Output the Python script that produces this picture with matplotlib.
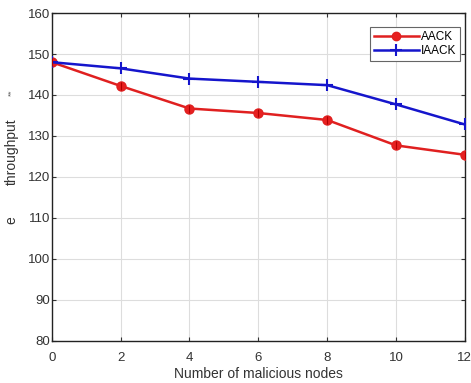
import matplotlib
matplotlib.use("Agg")
import matplotlib.pyplot as plt
from matplotlib.lines import Line2D

plt.rcParams['font.family'] = ['Liberation Sans', 'DejaVu Sans']

nodes = [0, 2, 4, 6, 8, 10, 12]
aack = [148.0, 142.2, 136.7, 135.6, 133.9, 127.7, 125.4]
iaack = [148.0, 146.5, 144.0, 143.2, 142.4, 137.7, 132.8]
xticks = [0, 2, 4, 6, 8, 10, 12]
yticks = [80, 90, 100, 110, 120, 130, 140, 150, 160]

fig = plt.figure(figsize=(4.71, 3.83), dpi=100)
ax = fig.add_axes([0.110, 0.110, 0.877, 0.856])

ax.plot(nodes, aack, color='#e02020', lw=1.8, marker='o', ms=6.5,
        mfc='#e82020', mec='#e02020', zorder=3)
ax.plot(nodes, aack, color='none', marker='|', ms=6, mec='#b00000', mew=0.8, zorder=4)
ax.plot(nodes, iaack, color='#1515cc', lw=1.8, marker='+', ms=9, mew=1.5, zorder=3)

ax.set_xlim(0, 12)
ax.set_ylim(80, 160)
ax.set_xticks(xticks)
ax.set_yticks(yticks)
ax.tick_params(direction='in', top=True, right=True, labelsize=9.5, colors='#333333',
               length=3)
ax.tick_params(axis='y', pad=1)
ax.tick_params(axis='x', pad=8)
ax.grid(True, color='#dddddd', lw=0.8)
for s in ax.spines.values():
    s.set_color('#222222')
    s.set_linewidth(1.0)

ax.set_xlabel('Number of malicious nodes', fontsize=10, color='#333333', labelpad=2)
fig.text(0.025, 0.605, 'throughput', rotation=90, fontsize=10, color='#333333',
         ha='center', va='center')
fig.text(0.025, 0.425, 'e', rotation=90, fontsize=10, color='#333333',
         ha='center', va='center')
fig.text(0.025, 0.757, '**', rotation=90, fontsize=6, color='#555555',
         ha='center', va='center')

h1 = Line2D([], [], color='#e02020', lw=1.8, marker='o', ms=6, mfc='#e82020', mec='#e02020')
h2 = Line2D([], [], color='#1515cc', lw=1.8, marker='+', ms=9, mew=1.5)
leg = ax.legend([h1, h2], ['AACK', 'IAACK'], loc='upper right', fontsize=8.5,
                bbox_to_anchor=(0.995, 0.965), fancybox=False, framealpha=1,
                edgecolor='#666666', handlelength=3.8, handletextpad=0.2,
                borderpad=0.35, labelspacing=0.2, borderaxespad=0.2)
leg.get_frame().set_linewidth(0.8)

fig.savefig('out.png', dpi=100)
